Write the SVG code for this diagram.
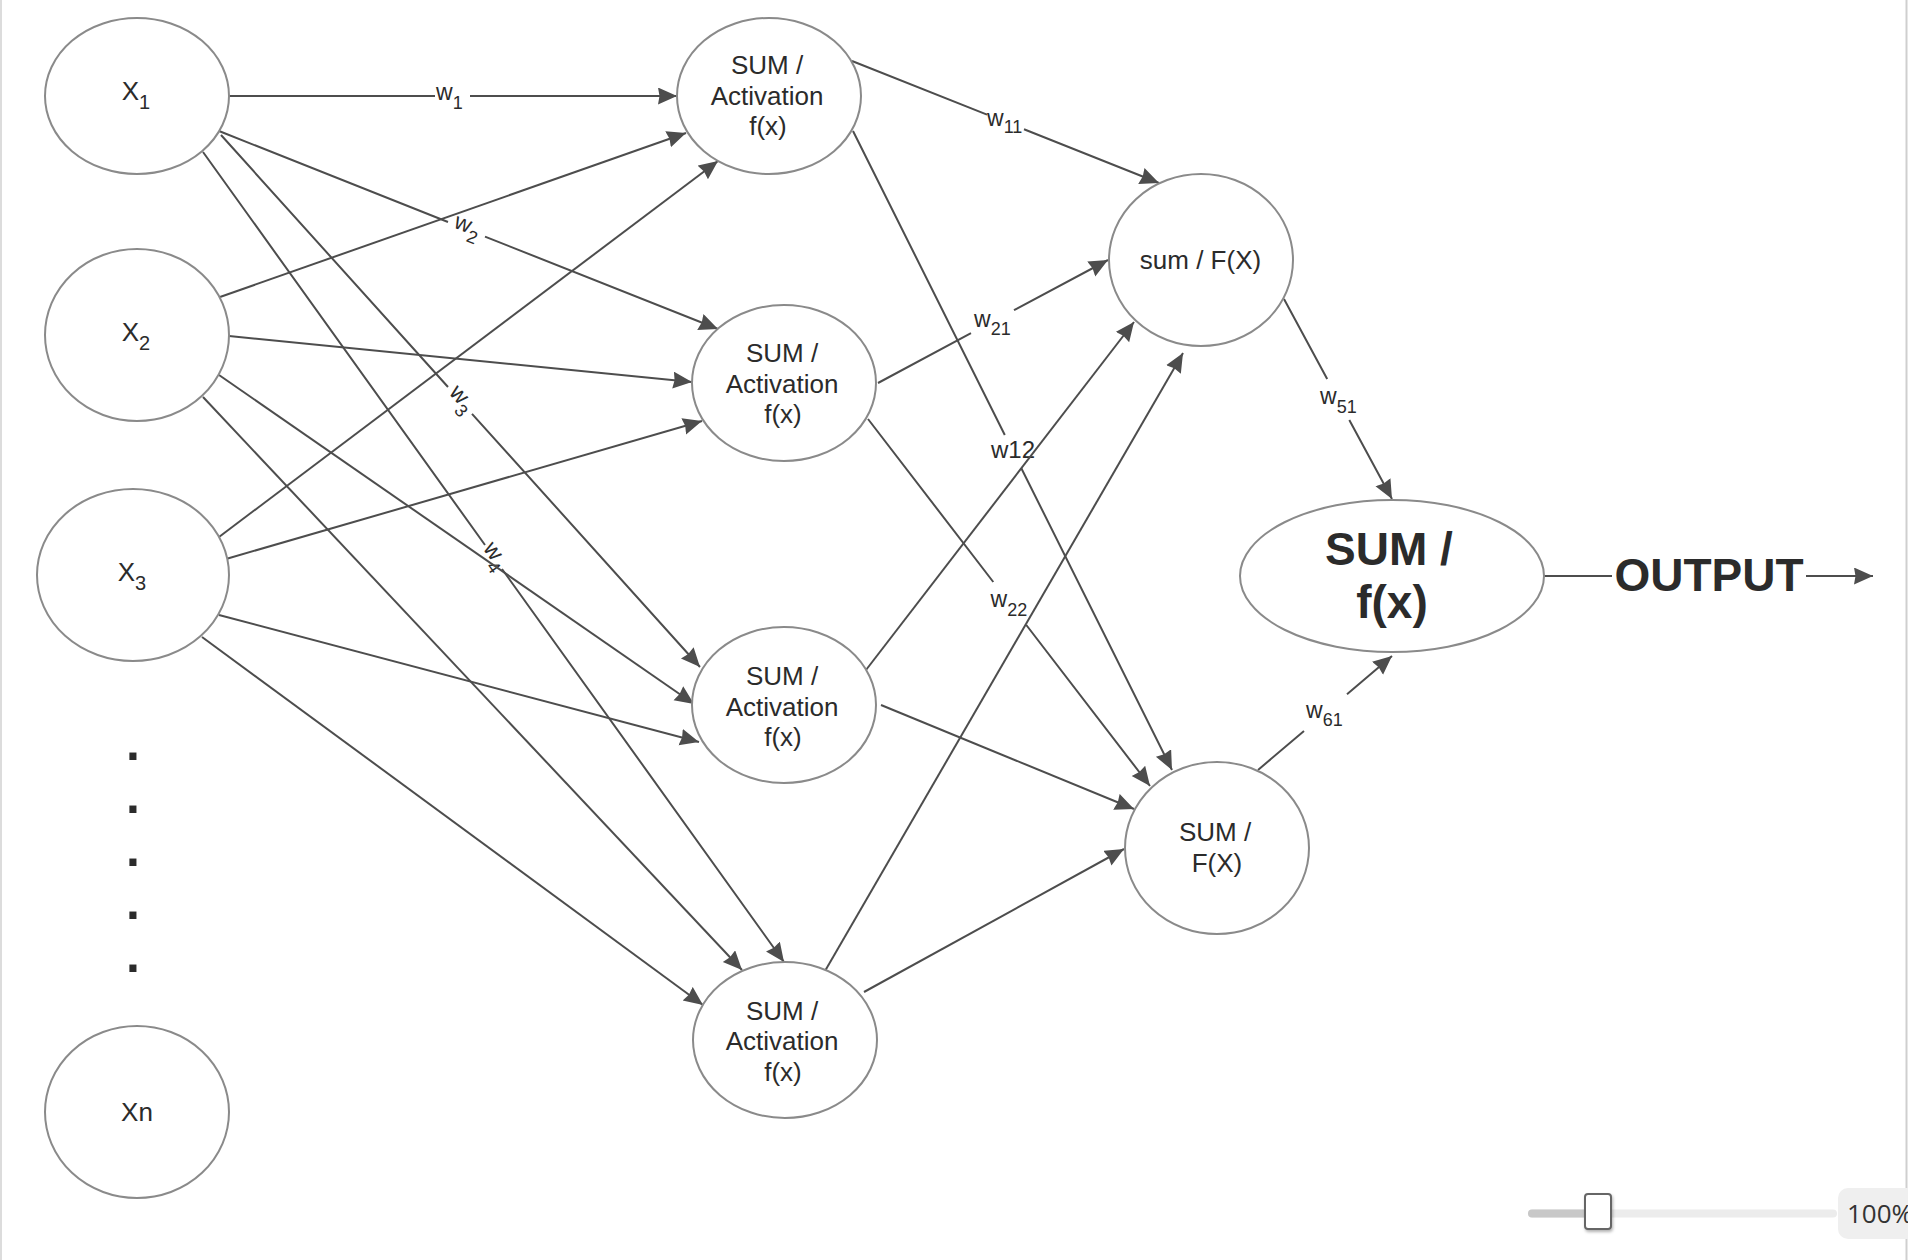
<svg xmlns="http://www.w3.org/2000/svg" width="1908" height="1260" viewBox="0 0 1908 1260">
  <defs>
    <marker id="arrow" markerUnits="userSpaceOnUse" markerWidth="20" markerHeight="18" refX="19" refY="8.5" orient="auto">
      <path d="M0,0 L19,8.5 L0,17 L1.5,8.5 Z" fill="#4d4d4d"/>
    </marker>
    <filter id="thumbShadow" x="-40%" y="-40%" width="180%" height="180%">
      <feDropShadow dx="1" dy="2" stdDeviation="1.5" flood-color="#000" flood-opacity="0.3"/>
    </filter>
  </defs>
  <style>
    .node { fill: #ffffff; stroke: #8a8a8a; stroke-width: 2; }
    .txt { font-family: "Liberation Sans", Arial, Helvetica, sans-serif; font-size: 26px; fill: #2b2b2b; text-anchor: middle; }
    .big { font-family: "Liberation Sans", Arial, Helvetica, sans-serif; font-size: 46px; font-weight: bold; fill: #2b2b2b; text-anchor: middle; }
    .edge { fill: none; stroke: #4d4d4d; stroke-width: 2; marker-end: url(#arrow); }
    .lbl { font-family: "Liberation Sans", Arial, Helvetica, sans-serif; font-size: 23px; fill: #2b2b2b; }
    .sub { font-size: 18px; }
    .nsub { font-size: 20px; }
  </style>

  <rect x="0" y="0" width="1908" height="1260" fill="#ffffff"/>
  <!-- page frame -->
  <line x1="1" y1="0" x2="1" y2="1260" stroke="#dcdcdc" stroke-width="2"/>
  <line x1="1906.5" y1="0" x2="1906.5" y2="1260" stroke="#cfcfcf" stroke-width="2"/>

  <!-- connectors -->
  <g id="connectors">
    <path class="edge" d="M229,96 L435,96 M470,96 L677,96"/>
    <text class="lbl" x="436" y="100">w<tspan class="sub" dy="9">1</tspan></text>

    <path class="edge" d="M219,131 L448,222 M485,236.6 L718,329"/>
    <g transform="translate(466.5,228.5) rotate(21.6)"><text class="lbl" x="-13.3" y="4">w<tspan class="sub" dy="8">2</tspan></text></g>

    <path class="edge" d="M221,135 L448,387 M472,413.8 L700,667"/>
    <g transform="translate(460,400.5) rotate(48)"><text class="lbl" x="-13.3" y="4">w<tspan class="sub" dy="8">3</tspan></text></g>

    <path class="edge" d="M203,152 L485,545 M502,569 L784,962"/>
    <g transform="translate(493.5,557) rotate(54.35)"><text class="lbl" x="-13.3" y="4">w<tspan class="sub" dy="8">4</tspan></text></g>

    <path class="edge" d="M220,297 L686,133"/>
    <path class="edge" d="M229,336 L692,382"/>
    <path class="edge" d="M219,375 L694,704"/>
    <path class="edge" d="M203,397 L742,970"/>
    <path class="edge" d="M219,537 L718,161"/>
    <path class="edge" d="M226,559 L702,421"/>
    <path class="edge" d="M219,615 L699,742"/>
    <path class="edge" d="M202,637 L703,1005"/>

    <path class="edge" d="M852,61 L987,114.6 M1024,129.3 L1159,183"/>
    <text class="lbl" x="987" y="126">w<tspan class="sub" dy="7">11</tspan></text>

    <path class="edge" d="M853,131 L1004.8,435 M1021.2,468 L1172,770"/>
    <text class="lbl" x="991" y="458" style="font-size:24px">w12</text>

    <path class="edge" d="M878,383 L971,333.2 M1014,310.2 L1108,260"/>
    <text class="lbl" x="974" y="327">w<tspan class="sub" dy="8">21</tspan></text>

    <path class="edge" d="M868,419 L993.3,582 M1026.3,625 L1150,786"/>
    <text class="lbl" x="990.5" y="607">w<tspan class="sub" dy="9">22</tspan></text>

    <path class="edge" d="M866,670 L1134,322"/>
    <path class="edge" d="M881,705 L1134,809"/>
    <path class="edge" d="M825,971 L1183,353"/>
    <path class="edge" d="M864,992 L1124,849"/>

    <path class="edge" d="M1284,299 L1327.2,379 M1349.3,420 L1392,499"/>
    <text class="lbl" x="1320" y="404">w<tspan class="sub" dy="9">51</tspan></text>

    <path class="edge" d="M1258,770 L1304,730.9 M1347,694.3 L1392,656"/>
    <text class="lbl" x="1306" y="718">w<tspan class="sub" dy="8">61</tspan></text>

    <path class="edge" d="M1544,576 L1612,576 M1806,576 L1873,576"/>
    <text class="big" x="1709" y="591">OUTPUT</text>
  </g>

  <!-- input layer -->
  <g id="x1">
    <ellipse class="node" cx="137" cy="96" rx="92" ry="78"/>
    <text class="txt" x="136" y="100">X<tspan class="nsub" dy="9">1</tspan></text>
  </g>
  <g id="x2">
    <ellipse class="node" cx="137" cy="335" rx="92" ry="86"/>
    <text class="txt" x="136" y="341">X<tspan class="nsub" dy="9">2</tspan></text>
  </g>
  <g id="x3">
    <ellipse class="node" cx="133" cy="575" rx="96" ry="86"/>
    <text class="txt" x="132" y="581">X<tspan class="nsub" dy="9">3</tspan></text>
  </g>
  <g id="ellipsis">
    <text class="big" x="133" y="760" style="font-size:50px">.</text>
    <text class="big" x="133" y="813" style="font-size:50px">.</text>
    <text class="big" x="133" y="866" style="font-size:50px">.</text>
    <text class="big" x="133" y="919" style="font-size:50px">.</text>
    <text class="big" x="133" y="972" style="font-size:50px">.</text>
  </g>
  <g id="xn">
    <ellipse class="node" cx="137" cy="1112" rx="92" ry="86"/>
    <text class="txt" x="137" y="1121">Xn</text>
  </g>

  <!-- hidden layer 1 -->
  <g id="h1">
    <ellipse class="node" cx="769" cy="96" rx="92" ry="78"/>
    <text class="txt" x="767" y="74">SUM /</text>
    <text class="txt" x="767" y="104.5">Activation</text>
    <text class="txt" x="768" y="135">f(x)</text>
  </g>
  <g id="h2">
    <ellipse class="node" cx="784" cy="383" rx="92" ry="78"/>
    <text class="txt" x="782" y="362">SUM /</text>
    <text class="txt" x="782" y="392.5">Activation</text>
    <text class="txt" x="783" y="423">f(x)</text>
  </g>
  <g id="h3">
    <ellipse class="node" cx="784" cy="705" rx="92" ry="78"/>
    <text class="txt" x="782" y="685">SUM /</text>
    <text class="txt" x="782" y="716">Activation</text>
    <text class="txt" x="783" y="746">f(x)</text>
  </g>
  <g id="h4">
    <ellipse class="node" cx="785" cy="1040" rx="92" ry="78"/>
    <text class="txt" x="782" y="1020">SUM /</text>
    <text class="txt" x="782" y="1050">Activation</text>
    <text class="txt" x="783" y="1081">f(x)</text>
  </g>

  <!-- hidden layer 2 -->
  <g id="s1">
    <ellipse class="node" cx="1201" cy="260" rx="92" ry="86"/>
    <text class="txt" x="1200.5" y="269">sum / F(X)</text>
  </g>
  <g id="s2">
    <ellipse class="node" cx="1217" cy="848" rx="92" ry="86"/>
    <text class="txt" x="1215" y="841">SUM /</text>
    <text class="txt" x="1217" y="872">F(X)</text>
  </g>

  <!-- output node -->
  <g id="out">
    <ellipse class="node" cx="1392" cy="576" rx="152" ry="76"/>
    <text class="big" x="1389" y="565">SUM /</text>
    <text class="big" x="1392" y="618">f(x)</text>
  </g>

  <!-- zoom control -->
  <g id="zoom-control">
    <rect x="1528" y="1209.5" width="309" height="8" rx="4" fill="#ececec"/>
    <rect x="1528" y="1209.5" width="64" height="8" rx="4" fill="#c8c8c8"/>
    <rect x="1585" y="1194" width="26" height="35" rx="3" fill="#ffffff" stroke="#666666" stroke-width="2" filter="url(#thumbShadow)"/>
    <rect x="1838" y="1188" width="90" height="51" rx="10" fill="#efefef"/>
    <text x="1847" y="1223" style="font-family:'Open Sans','Noto Sans',sans-serif;font-size:26px;fill:#333333">100%</text>
  </g>
</svg>
